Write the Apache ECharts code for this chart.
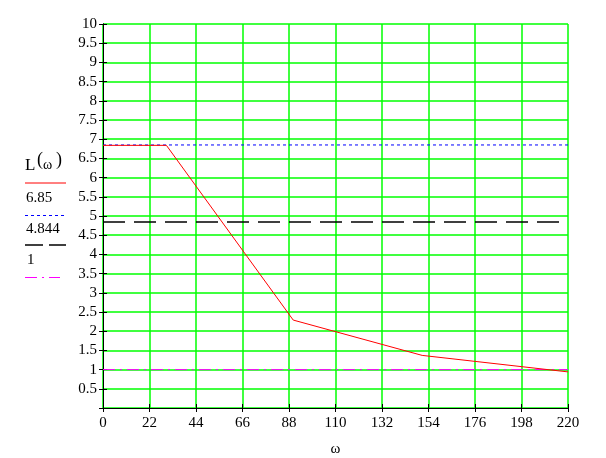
<!DOCTYPE html>
<html>
<head>
<meta charset="UTF-8">
<title>L(ω)</title>
<script src="https://cdn.jsdelivr.net/npm/echarts@6/dist/echarts.min.js"></script>
<style>
  body { margin: 0; padding: 0; background: #fff; }
  #main { width: 606px; height: 458px; }
</style>
</head>
<body>
<div id="main"></div>
<script>
// break points of L(ω)
const omega = [0, 30, 90, 151, 220];
const L = [6.84, 6.84, 2.29, 1.37, 0.94];
// horizontal reference levels
const levels = [6.85, 4.844, 1];
const levelLabels = ['6.85', '4.844', '1'];

const xMin = 0, xMax = 220, xStep = 22;
const yMin = 0, yMax = 10, yStep = 0.5;

const font = 'Liberation Serif, Times New Roman, serif';
const chart = echarts.init(document.getElementById('main'), null, {renderer: 'canvas'});

function levelLine(v, color, type) {
  return {
    type: 'line',
    data: [[xMin, v], [xMax, v]],
    symbol: 'none',
    silent: true,
    animation: false,
    lineStyle: {color: color, width: type === 'dash' ? 1.6 : 1, type: type === 'dash' ? [22, 9] : type}
  };
}

const baseX = {
  type: 'value', min: xMin, max: xMax, interval: xStep,
  axisLine: {lineStyle: {color: '#000', width: 1}}
};
const baseY = {
  type: 'value', min: yMin, max: yMax, interval: yStep,
  axisLine: {show: true, lineStyle: {color: '#000', width: 1}}
};

chart.setOption({
  animation: false,
  grid: {left: 103, right: 38, top: 24, bottom: 50, containLabel: false, outerBoundsMode: 'none'},
  xAxis: [
    Object.assign({}, baseX, {
      name: 'ω', nameLocation: 'middle', nameGap: 34,
      nameTextStyle: {fontFamily: font, fontSize: 15, color: '#000'},
      axisTick: {length: 4, lineStyle: {color: '#000'}},
      axisLabel: {fontFamily: font, fontSize: 15, color: '#000', margin: 8},
      splitLine: {show: true, lineStyle: {color: '#00ff00', width: 1.5}}
    }),
    Object.assign({}, baseX, {
      position: 'bottom',
      axisTick: {inside: true, length: 4, lineStyle: {color: '#000'}},
      axisLabel: {show: false},
      splitLine: {show: false}
    })
  ],
  yAxis: [
    Object.assign({}, baseY, {
      axisTick: {length: 4, lineStyle: {color: '#000'}},
      axisLabel: {
        fontFamily: font, fontSize: 15, color: '#000', margin: 6,
        formatter: v => v === 0 ? '' : String(v)
      },
      splitLine: {show: true, lineStyle: {color: '#00ff00', width: 1.5}}
    }),
    Object.assign({}, baseY, {
      position: 'left',
      axisTick: {inside: true, length: 4, lineStyle: {color: '#000'}},
      axisLabel: {show: false},
      splitLine: {show: false}
    })
  ],
  series: [
    levelLine(levels[0], '#0000ff', [3, 3]),
    levelLine(levels[1], '#000000', 'dash'),
    levelLine(levels[2], '#ff00ff', [12, 5, 2, 5]),
    {
      type: 'line',
      data: omega.map((w, i) => [w, L[i]]),
      symbol: 'none',
      lineStyle: {color: '#ff0000', width: 1}
    }
  ],
  graphic: [
    {type: 'text', left: 25, top: 157, style: {text: 'L', font: '17px ' + font, fill: '#000'}},
    {type: 'text', left: 37, top: 151, style: {text: '(', font: '18px ' + font, fill: '#000'}},
    {type: 'text', left: 43, top: 158, style: {text: 'ω', font: '14px ' + font, fill: '#000'}},
    {type: 'text', left: 56, top: 151, style: {text: ')', font: '18px ' + font, fill: '#000'}},
    {type: 'line', shape: {x1: 25, y1: 183, x2: 66, y2: 183}, style: {stroke: '#ff0000', lineWidth: 1}},
    {type: 'text', left: 26, top: 191, style: {text: levelLabels[0], font: '15px ' + font, fill: '#000'}},
    {type: 'line', shape: {x1: 25, y1: 215.5, x2: 66, y2: 215.5}, style: {stroke: '#0000ff', lineWidth: 1, lineDash: [3, 3]}},
    {type: 'text', left: 26, top: 222, style: {text: levelLabels[1], font: '15px ' + font, fill: '#000'}},
    {type: 'line', shape: {x1: 25, y1: 245, x2: 66, y2: 245}, style: {stroke: '#000', lineWidth: 1.4, lineDash: [18, 6]}},
    {type: 'text', left: 27, top: 253, style: {text: levelLabels[2], font: '15px ' + font, fill: '#000'}},
    {type: 'line', shape: {x1: 25, y1: 277.5, x2: 60, y2: 277.5}, style: {stroke: '#ff00ff', lineWidth: 1, lineDash: [12, 5, 2, 5]}}
  ]
});
</script>
</body>
</html>
